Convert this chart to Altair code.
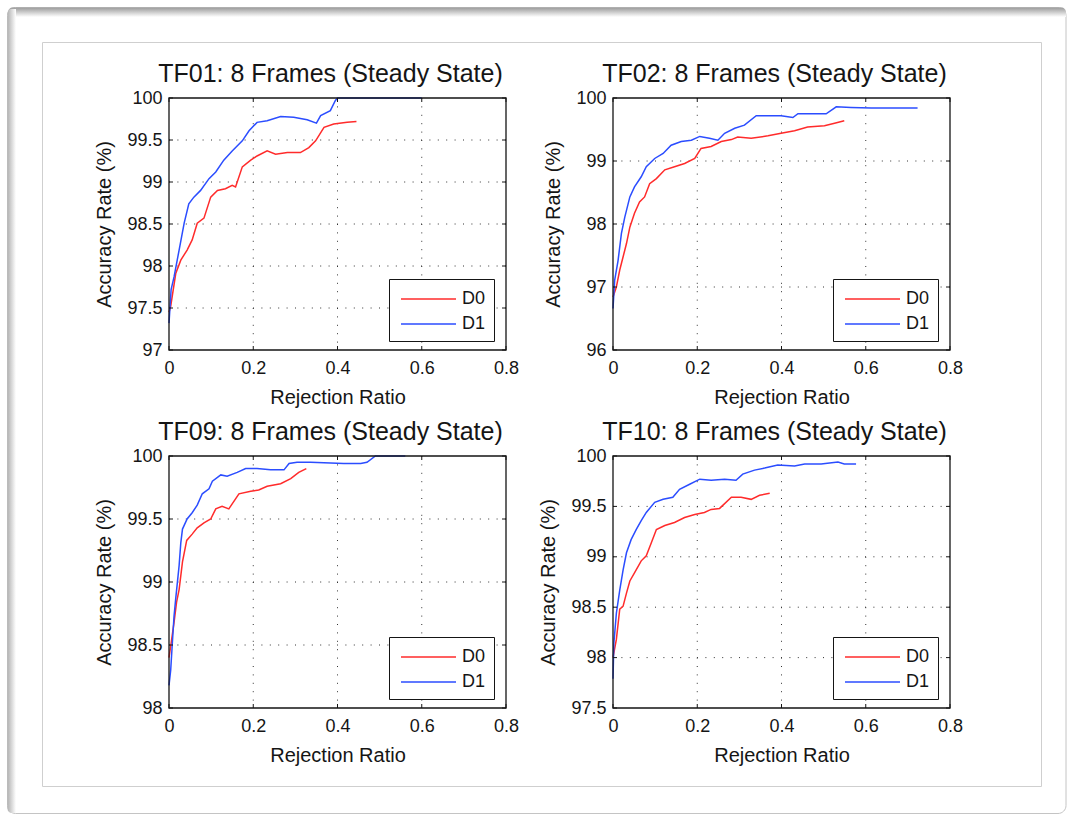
import altair as alt
import pandas as pd

FONT = "Liberation Sans"
RED = "#ff2b2b"
BLUE = "#2b4dff"
INK = "#151515"
W, H = 337, 252

series_names = ["D0", "D1"]
titles = [
    "TF01: 8 Frames (Steady State)",
    "TF02: 8 Frames (Steady State)",
    "TF09: 8 Frames (Steady State)",
    "TF10: 8 Frames (Steady State)",
]
x_title = "Rejection Ratio"
y_title = "Accuracy Rate (%)"
x_ticks = [0, 0.2, 0.4, 0.6, 0.8]
y_ticks_tf01 = [97, 97.5, 98, 98.5, 99, 99.5, 100]
y_ticks_tf02 = [96, 97, 98, 99, 100]
y_ticks_tf09 = [98, 98.5, 99, 99.5, 100]
y_ticks_tf10 = [97.5, 98, 98.5, 99, 99.5, 100]

# ---- TF01 ----
tf01_d0_x = [0.0, 0.004, 0.016, 0.028, 0.043, 0.055, 0.067, 0.083, 0.099, 0.115, 0.134, 0.150, 0.158,
             0.174, 0.194, 0.209, 0.233, 0.253, 0.281, 0.312, 0.332, 0.348, 0.368, 0.391, 0.423, 0.445]
tf01_d0_y = [97.45, 97.52, 97.91, 98.07, 98.19, 98.31, 98.51, 98.57, 98.82, 98.90, 98.92, 98.96, 98.94,
             99.18, 99.26, 99.31, 99.37, 99.33, 99.35, 99.35, 99.41, 99.49, 99.65, 99.69, 99.71, 99.72]
tf01_d1_x = [0.0, 0.005, 0.012, 0.024, 0.036, 0.047, 0.059, 0.075, 0.095, 0.111, 0.130, 0.150, 0.174,
             0.190, 0.209, 0.233, 0.265, 0.296, 0.328, 0.350, 0.360, 0.383, 0.395, 0.400, 0.600]
tf01_d1_y = [97.32, 97.72, 97.87, 98.19, 98.51, 98.74, 98.82, 98.90, 99.04, 99.12, 99.26, 99.37, 99.49,
             99.61, 99.71, 99.73, 99.78, 99.77, 99.74, 99.70, 99.79, 99.85, 99.97, 100.0, 100.0]

# ---- TF02 ----
tf02_d0_x = [0.0, 0.008, 0.016, 0.024, 0.032, 0.040, 0.051, 0.063, 0.075, 0.087, 0.103, 0.123, 0.146,
             0.170, 0.194, 0.209, 0.233, 0.257, 0.281, 0.296, 0.328, 0.368, 0.399, 0.431, 0.462, 0.502,
             0.526, 0.549]
tf02_d0_y = [96.84, 97.0, 97.27, 97.48, 97.69, 97.95, 98.17, 98.35, 98.43, 98.64, 98.72, 98.86, 98.91,
             98.96, 99.04, 99.20, 99.23, 99.31, 99.34, 99.38, 99.36, 99.40, 99.44, 99.48, 99.54, 99.56,
             99.60, 99.64]
tf02_d1_x = [0.0, 0.004, 0.012, 0.020, 0.028, 0.040, 0.051, 0.067, 0.079, 0.099, 0.119, 0.138, 0.162,
             0.186, 0.206, 0.229, 0.249, 0.265, 0.289, 0.312, 0.340, 0.368, 0.399, 0.427, 0.439, 0.506,
             0.530, 0.565, 0.613, 0.723]
tf02_d1_y = [96.66, 97.11, 97.42, 97.85, 98.11, 98.43, 98.59, 98.75, 98.91, 99.04, 99.12, 99.25, 99.31,
             99.33, 99.39, 99.36, 99.33, 99.44, 99.52, 99.57, 99.72, 99.72, 99.72, 99.69, 99.75, 99.75,
             99.86, 99.85, 99.84, 99.84]

# ---- TF09 ----
tf09_d0_x = [0.0, 0.004, 0.012, 0.018, 0.024, 0.032, 0.042, 0.055, 0.067, 0.083, 0.099, 0.111, 0.126,
             0.142, 0.158, 0.166, 0.194, 0.213, 0.233, 0.265, 0.289, 0.308, 0.326]
tf09_d0_y = [98.40, 98.49, 98.68, 98.84, 98.94, 99.16, 99.33, 99.38, 99.43, 99.47, 99.50, 99.58, 99.60,
             99.58, 99.66, 99.70, 99.72, 99.73, 99.76, 99.78, 99.82, 99.87, 99.90]
tf09_d1_x = [0.0, 0.004, 0.008, 0.012, 0.016, 0.024, 0.028, 0.032, 0.043, 0.055, 0.067, 0.079, 0.095,
             0.103, 0.123, 0.138, 0.162, 0.182, 0.209, 0.241, 0.273, 0.285, 0.304, 0.336, 0.415, 0.455,
             0.470, 0.490, 0.561]
tf09_d1_y = [98.18, 98.30, 98.52, 98.73, 98.87, 99.13, 99.31, 99.42, 99.50, 99.55, 99.61, 99.70, 99.74,
             99.80, 99.85, 99.84, 99.87, 99.90, 99.90, 99.89, 99.89, 99.94, 99.95, 99.95, 99.94, 99.94,
             99.95, 100.0, 100.0]

# ---- TF10 ----
tf10_d0_x = [0.0, 0.008, 0.016, 0.024, 0.032, 0.040, 0.051, 0.067, 0.079, 0.091, 0.103, 0.123, 0.146,
             0.170, 0.194, 0.217, 0.233, 0.253, 0.281, 0.304, 0.328, 0.348, 0.372]
tf10_d0_y = [98.0, 98.18, 98.48, 98.51, 98.64, 98.76, 98.84, 98.96, 99.01, 99.14, 99.27, 99.31, 99.34,
             99.39, 99.42, 99.44, 99.47, 99.48, 99.59, 99.59, 99.57, 99.61, 99.63]
tf10_d1_x = [0.0, 0.002, 0.008, 0.016, 0.024, 0.032, 0.043, 0.055, 0.067, 0.079, 0.099, 0.119, 0.142,
             0.158, 0.182, 0.206, 0.233, 0.265, 0.292, 0.308, 0.336, 0.360, 0.391, 0.431, 0.455, 0.494,
             0.534, 0.549, 0.577]
tf10_d1_y = [97.79, 98.14, 98.44, 98.67, 98.87, 99.04, 99.17, 99.27, 99.36, 99.44, 99.54, 99.57, 99.59,
             99.67, 99.72, 99.77, 99.76, 99.77, 99.76, 99.82, 99.86, 99.88, 99.91, 99.90, 99.92, 99.92,
             99.94, 99.92, 99.92]

ONE = pd.DataFrame({"a": [0]})

# decoration cell: 1x1 view placed at the first panel's origin (169, 97)
OX, OY = 169, 97


def background_cell():
    layers = []
    layers.append(alt.Chart(ONE).mark_rect(color="white").encode(
        x=alt.value(0 - OX), x2=alt.value(1068 - OX), y=alt.value(0 - OY), y2=alt.value(817 - OY)))
    layers.append(alt.Chart(ONE).mark_rect(fill="white", stroke="#c4c4c4", strokeWidth=1, cornerRadius=8).encode(
        x=alt.value(7.5 - OX), x2=alt.value(1066 - OX), y=alt.value(7.5 - OY), y2=alt.value(813.5 - OY)))
    top_grad = alt.LinearGradient(gradient="linear", x1=0, x2=0, y1=0, y2=1,
                                  stops=[alt.GradientStop(color="#9a9a9a", offset=0),
                                         alt.GradientStop(color="#ffffff", offset=1)])
    left_grad = alt.LinearGradient(gradient="linear", x1=0, x2=1, y1=0, y2=0,
                                   stops=[alt.GradientStop(color="#b2b2b2", offset=0),
                                          alt.GradientStop(color="#ffffff", offset=1)])
    layers.append(alt.Chart(ONE).mark_rect(fill=top_grad, cornerRadiusTopLeft=8, cornerRadiusTopRight=8).encode(
        x=alt.value(8 - OX), x2=alt.value(1066 - OX), y=alt.value(7.5 - OY), y2=alt.value(17 - OY)))
    layers.append(alt.Chart(ONE).mark_rect(fill=left_grad, cornerRadiusTopLeft=8, cornerRadiusBottomLeft=8).encode(
        x=alt.value(7.5 - OX), x2=alt.value(16 - OX), y=alt.value(9 - OY), y2=alt.value(813 - OY)))
    layers.append(alt.Chart(ONE).mark_rect(filled=False, color="#cfcfcf", strokeWidth=1).encode(
        x=alt.value(42.5 - OX), x2=alt.value(1041.5 - OX), y=alt.value(42.5 - OY), y2=alt.value(786.5 - OY)))
    return alt.layer(*layers).properties(width=1, height=1)


def panel(title, d0x, d0y, d1x, d1y, yticks):
    xs = alt.Scale(domain=[x_ticks[0], x_ticks[-1]], nice=False, zero=False)
    ys = alt.Scale(domain=[yticks[0], yticks[-1]], nice=False, zero=False)

    df = pd.DataFrame({
        "x": d0x + d1x,
        "y": d0y + d1y,
        "s": [series_names[0]] * len(d0x) + [series_names[1]] * len(d1x),
        "o": list(range(len(d0x))) + list(range(len(d1x))),
    })

    x_axis = alt.Axis(values=x_ticks, format=".4~g", title=x_title, grid=False, ticks=False, tickSize=0,
                      domain=False, labelFontSize=18, labelPadding=9, labelFlush=False, labelColor=INK,
                      titleFontSize=20, titleFontWeight="normal", titleColor=INK, titlePadding=10,
                      labelFont=FONT, titleFont=FONT, zindex=1)
    y_axis = alt.Axis(values=yticks, format=".4~g", title=y_title, grid=False, ticks=False, tickSize=0,
                      domain=False, labelFontSize=18, labelPadding=7, labelColor=INK,
                      titleFontSize=20, titleFontWeight="normal", titleColor=INK, titlePadding=12,
                      labelFont=FONT, titleFont=FONT, zindex=1)
    legend = alt.Legend(title=None, orient="none", legendX=220, legendY=181,
                        symbolType="M-0.727,0H4.273", symbolSize=484, symbolStrokeWidth=1.5,
                        labelFontSize=18, labelFont=FONT, labelColor=INK, labelOffset=41,
                        labelExpr="datum.label + '\u00a0'",
                        padding=8, rowPadding=4, strokeColor=INK, fillColor="white", zindex=1)

    grid_style = dict(color="#333333", strokeDash=[1, 7.4], strokeWidth=1)
    xg = alt.Chart(pd.DataFrame({"x": x_ticks[1:-1]})).mark_rule(**grid_style).encode(
        x=alt.X("x:Q", scale=xs, axis=x_axis))
    yg = alt.Chart(pd.DataFrame({"y": yticks[1:-1]})).mark_rule(**grid_style).encode(
        y=alt.Y("y:Q", scale=ys, axis=y_axis))

    lines = alt.Chart(df).mark_line(strokeWidth=1.5).encode(
        x=alt.X("x:Q", scale=xs, axis=x_axis),
        y=alt.Y("y:Q", scale=ys, axis=y_axis),
        color=alt.Color("s:N", scale=alt.Scale(domain=series_names, range=[RED, BLUE]), legend=legend),
        order="o:Q",
    )

    frame = alt.Chart(ONE).mark_rect(filled=False, color=INK, strokeWidth=1.3).encode(
        x=alt.value(0), x2=alt.value(W), y=alt.value(0), y2=alt.value(H))

    xt = pd.DataFrame({"x": x_ticks})
    yt = pd.DataFrame({"y": yticks})
    tick_style = dict(color=INK, strokeWidth=1)
    bt = alt.Chart(xt).mark_rule(**tick_style).encode(
        x=alt.X("x:Q", scale=xs, axis=x_axis), y=alt.value(H), y2=alt.value(H - 4))
    tt = alt.Chart(xt).mark_rule(**tick_style).encode(
        x=alt.X("x:Q", scale=xs, axis=x_axis), y=alt.value(0), y2=alt.value(4))
    lt = alt.Chart(yt).mark_rule(**tick_style).encode(
        y=alt.Y("y:Q", scale=ys, axis=y_axis), x=alt.value(0), x2=alt.value(4))
    rt = alt.Chart(yt).mark_rule(**tick_style).encode(
        y=alt.Y("y:Q", scale=ys, axis=y_axis), x=alt.value(W), x2=alt.value(W - 4))

    return alt.layer(xg, yg, lines, frame, bt, tt, lt, rt).properties(
        width=W, height=H,
        title=alt.TitleParams(text=title, fontSize=25, fontWeight="normal", font=FONT, color=INK,
                              anchor="middle", frame="group", baseline="alphabetic", offset=7,
                              dx=-7, dy=25, zindex=1),
    )


p1 = panel(titles[0], tf01_d0_x, tf01_d0_y, tf01_d1_x, tf01_d1_y, y_ticks_tf01)
p2 = panel(titles[1], tf02_d0_x, tf02_d0_y, tf02_d1_x, tf02_d1_y, y_ticks_tf02)
p3 = panel(titles[2], tf09_d0_x, tf09_d0_y, tf09_d1_x, tf09_d1_y, y_ticks_tf09)
p4 = panel(titles[3], tf10_d0_x, tf10_d0_y, tf10_d1_x, tf10_d1_y, y_ticks_tf10)

grid = alt.concat(
    p1, p2, p3, p4, columns=2,
    spacing=alt.RowColnumber(row=106, column=107), bounds="flush",
).resolve_scale(
    x="independent", y="independent", color="independent"
).resolve_legend(
    color="independent"
)

chart = alt.vconcat(background_cell(), grid, spacing=0, bounds="flush").properties(
    padding=0, background="white"
).configure(font=FONT).configure_view(stroke=None)

chart.save("out.html", embed_options={"renderer": "svg", "actions": False})
